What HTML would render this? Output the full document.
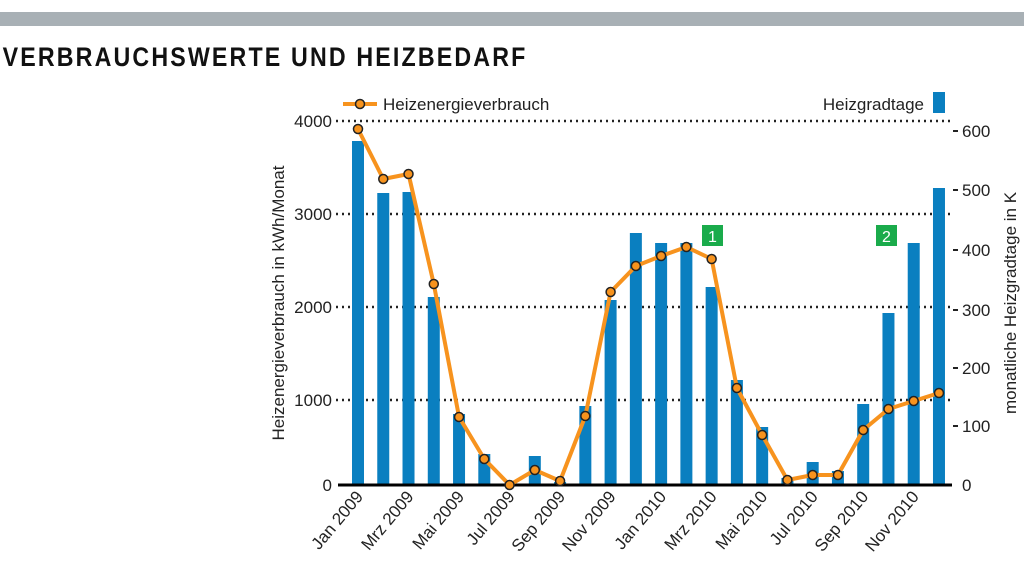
<!DOCTYPE html>
<html><head><meta charset="utf-8"><style>
body{margin:0;background:#fff;width:1024px;height:562px;overflow:hidden;font-family:"Liberation Sans",sans-serif}
</style></head><body>
<svg width="1024" height="562" xmlns="http://www.w3.org/2000/svg" font-family="Liberation Sans, sans-serif">
<rect x="0" y="12" width="1024" height="14" fill="#a8b0b5"/>
<text x="3" y="66" font-size="27" font-weight="bold" letter-spacing="2.5" transform="scale(0.86,1)" fill="#111">VERBRAUCHSWERTE UND HEIZBEDARF</text>
<g stroke="#222" stroke-width="2.5" stroke-dasharray="2,4">
<line x1="336" y1="121" x2="952" y2="121"/><line x1="336" y1="214" x2="952" y2="214"/>
<line x1="336" y1="307" x2="952" y2="307"/><line x1="336" y1="400" x2="952" y2="400"/>
</g>
<g fill="#0a7fc0" id="bars"></g>
<line x1="338" y1="485" x2="952" y2="485" stroke="#000" stroke-width="3"/>
<g font-size="17" fill="#222" text-anchor="end">
<text x="332" y="127">4000</text><text x="332" y="220">3000</text><text x="332" y="313">2000</text><text x="332" y="406">1000</text><text x="332" y="491">0</text>
</g>
<g font-size="17" fill="#222">
<text x="962" y="137">600</text><text x="962" y="196">500</text><text x="962" y="256">400</text><text x="962" y="316">300</text><text x="962" y="374">200</text><text x="962" y="432">100</text><text x="962" y="491">0</text>
</g>
<g stroke="#222" stroke-width="2"><line x1="953" y1="131" x2="958" y2="131"/><line x1="953" y1="190" x2="958" y2="190"/><line x1="953" y1="250" x2="958" y2="250"/><line x1="953" y1="310" x2="958" y2="310"/><line x1="953" y1="368" x2="958" y2="368"/><line x1="953" y1="426" x2="958" y2="426"/></g>
<text transform="translate(284,303) rotate(-90)" font-size="17" text-anchor="middle" fill="#222">Heizenergieverbrauch in kWh/Monat</text>
<text transform="translate(1016,303) rotate(-90)" font-size="17" text-anchor="middle" fill="#222">monatliche Heizgradtage in K</text>
<line x1="343" y1="104" x2="377" y2="104" stroke="#f7931e" stroke-width="4"/>
<circle cx="360" cy="104" r="4.5" fill="#f7931e" stroke="#222" stroke-width="1.5"/>
<text x="383" y="110" font-size="17" fill="#222">Heizenergieverbrauch</text>
<text x="924" y="110" font-size="17" fill="#222" text-anchor="end">Heizgradtage</text>
<rect x="933" y="92" width="12" height="21" fill="#0a7fc0"/>
<polyline id="ln" fill="none" stroke="#f7931e" stroke-width="4" stroke-linejoin="round"/>
<g id="pts"></g>
<rect x="702" y="225" width="21" height="21" fill="#1aab4b"/><text x="712.5" y="242" font-size="16" fill="#fff" text-anchor="middle">1</text>
<rect x="876" y="225" width="21" height="21" fill="#1aab4b"/><text x="886.5" y="242" font-size="16" fill="#fff" text-anchor="middle">2</text>
<g id="xl" font-size="17" fill="#222" text-anchor="end"></g>
</svg>
<script>
var bt=[141,193,192,297,414,454,484,456,482,406,300,233,243,243,287,380,427,478,462,471,404,313,243,188];
var lp=[129,179,174,284,417,459,485,470,481,416,292,266,256,247,259,388,435,480,475,475,430,409,401,393];
var ns="http://www.w3.org/2000/svg",b=document.getElementById('bars'),p=document.getElementById('pts'),pts=[];
function cx(i){return 358+i*25.26;}
bt.forEach(function(t,i){var r=document.createElementNS(ns,'rect');r.setAttribute('x',cx(i)-6);r.setAttribute('y',t);r.setAttribute('width',12);r.setAttribute('height',485-t);b.appendChild(r);});
lp.forEach(function(y,i){pts.push(cx(i)+','+y);var c=document.createElementNS(ns,'circle');c.setAttribute('cx',cx(i));c.setAttribute('cy',y);c.setAttribute('r',4.5);c.setAttribute('fill','#f7931e');c.setAttribute('stroke','#222');c.setAttribute('stroke-width','1.5');p.appendChild(c);});
document.getElementById('ln').setAttribute('points',pts.join(' '));
var lab=['Jan 2009','Mrz 2009','Mai 2009','Jul 2009','Sep 2009','Nov 2009','Jan 2010','Mrz 2010','Mai 2010','Jul 2010','Sep 2010','Nov 2010'],xl=document.getElementById('xl');
lab.forEach(function(s,k){var x=cx(2*k)+6,t=document.createElementNS(ns,'text');t.setAttribute('transform','translate('+x+',497) rotate(-50)');t.textContent=s;xl.appendChild(t);});
</script>
</body></html>
